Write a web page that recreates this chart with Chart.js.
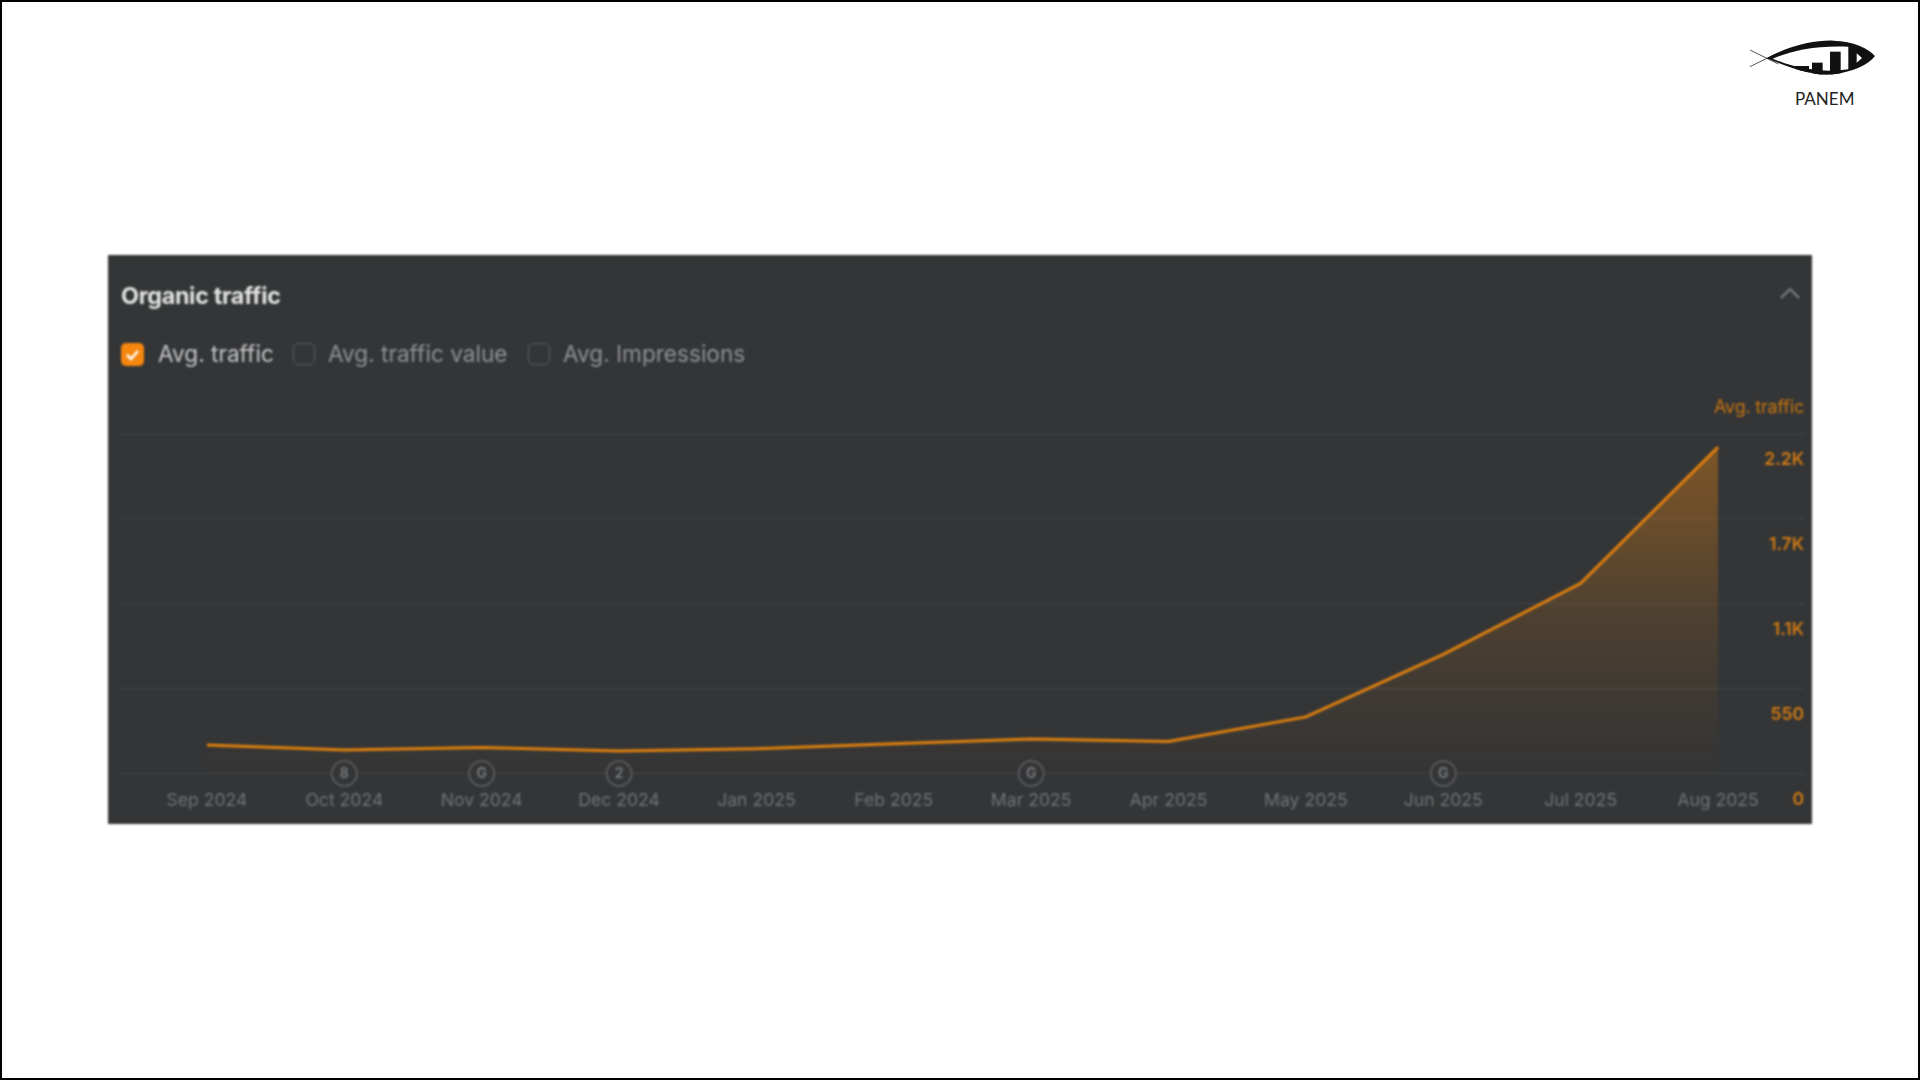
<!DOCTYPE html>
<html><head><meta charset="utf-8">
<script src="https://cdn.jsdelivr.net/npm/chart.js@4"></script>
<style>
html,body{margin:0;padding:0;background:#fff;width:1920px;height:1080px;overflow:hidden}
#frame{position:absolute;left:0;top:0;width:1920px;height:1080px;box-sizing:border-box;border:2px solid #000}
#panel{position:absolute;left:108px;top:255px;width:1704px;height:569px;background:#343536;filter:blur(0.9px);font-family:Inter,sans-serif}
#panel canvas{position:absolute;left:0;top:0}
.t{position:absolute;white-space:nowrap}
#title{left:13px;top:26px;font-size:23.3px;font-weight:700;color:#e2e3e3;letter-spacing:-.3px}
.leg{top:86px;font-size:22.6px;line-height:26px}
.box{position:absolute;top:88px;width:22px;height:22px;border:1.5px solid #5c5d5f;border-radius:5px;box-sizing:border-box}
#chk{left:13px;width:23px;height:23px;top:88px;background:#f5870f;border:none;border-radius:5px}
#chk svg{position:absolute;left:0;top:0}
#ytitle{right:8px;top:141px;font-size:18px;color:#c9750f;letter-spacing:-.2px}
#arrow{position:absolute;left:1671px;top:31px}
#logo{position:absolute;left:1720px;top:20px}
#brand{position:absolute;left:1795px;top:88px;font:17px Lato,"Open Sans",sans-serif;color:#222}
</style></head>
<body>
<div id="frame"></div>
<svg id="logo" width="180" height="100" viewBox="0 0 540 300">
<defs><clipPath id="fish"><path d="M140 115 C210 75 290 60 340 62 C400 64 445 85 465 108 C445 135 400 155 340 163 C290 168 240 155 140 115 Z"/></clipPath></defs>
<path d="M90 90 L175 132 M90 140 L175 98" stroke="#333" stroke-width="2.5" fill="none"/>
<path d="M140 115 C210 75 290 60 340 62 C400 64 445 85 465 108 C445 135 400 155 340 163 C290 168 240 155 140 115 Z" fill="#111"/>
<path d="M158 116 C215 92 285 76 385 80 L385 148 C320 158 240 150 158 116 Z" fill="#fff"/>
<g clip-path="url(#fish)" fill="#111">
<rect x="225" y="138" width="42" height="30"/>
<rect x="276" y="128" width="32" height="40"/>
<rect x="330" y="95" width="32" height="73"/>
</g>
<path d="M410 100 L426 114 L410 128 Z" fill="#fff"/>
</svg>
<div id="brand">PANEM</div>
<div id="panel">
  <canvas id="c" width="1704" height="569"></canvas>
  <div class="t" id="title">Organic traffic</div>
  <div class="box" id="chk"><svg width="23" height="23"><path d="M6 12 L10 16 L17 8" stroke="#fff" stroke-width="2.5" fill="none"/></svg></div>
  <div class="t leg" style="left:50px;color:#c6c7c8">Avg. traffic</div>
  <div class="box" style="left:185px"></div>
  <div class="t leg" style="left:220px;color:#8f9193">Avg. traffic value</div>
  <div class="box" style="left:420px"></div>
  <div class="t leg" style="left:455px;color:#8f9193">Avg. Impressions</div>
  <div class="t" id="ytitle">Avg. traffic</div>
  <svg id="arrow" width="22" height="14"><path d="M2 12 L11 3 L20 12" stroke="#7c7e80" stroke-width="2.2" fill="none"/></svg>
</div>
<script>
const months = ["Sep 2024","Oct 2024","Nov 2024","Dec 2024","Jan 2025","Feb 2025","Mar 2025","Apr 2025","May 2025","Jun 2025","Jul 2025","Aug 2025"];
const avgTraffic = [184,153,168,145,160,192,224,208,367,772,1233,2115];
const yTicks = [0,550,1100,1650,2200];
const yTickLabels = ["0","550","1.1K","1.7K","2.2K"];
const noteMonths = [1,2,3,6,9];
const noteMarks = ["8","G","2","G","G"];

const notePlugin = {
  id:'notes',
  afterDatasetsDraw(chart){
    const meta = chart.getDatasetMeta(1), ctx = chart.ctx;
    ctx.save();
    ctx.font = '600 14px Inter'; ctx.fillStyle = '#7c7e80';
    ctx.textAlign = 'center'; ctx.textBaseline = 'middle';
    meta.data.forEach((p,i)=>ctx.fillText(noteMarks[i], p.x, p.y));
    ctx.restore();
  }
};
new Chart(document.getElementById('c'),{
  type:'line',
  plugins:[notePlugin],
  data:{datasets:[
    {label:'Avg. traffic',data:avgTraffic.map((v,i)=>({x:i,y:v})),
     borderColor:'#df800e',borderWidth:3,pointRadius:0,tension:0,fill:'origin',
     backgroundColor(c){
       const a=c.chart.chartArea; if(!a) return 'transparent';
       const g=c.chart.ctx.createLinearGradient(0,a.top,0,a.bottom);
       g.addColorStop(0,'rgba(225,130,20,.44)');
       g.addColorStop(.25,'rgba(225,130,20,.32)');
       g.addColorStop(.5,'rgba(225,130,20,.17)');
       g.addColorStop(.75,'rgba(225,130,20,.07)');
       g.addColorStop(1,'rgba(225,130,20,0)');
       return g;
     }},
    {label:'Notes',type:'scatter',data:noteMonths.map(i=>({x:i,y:0})),clip:false,
     pointRadius:12.5,pointBorderWidth:1.5,pointBorderColor:'#626365',pointBackgroundColor:'#343536'}
  ]},
  options:{
    responsive:false,animation:false,
    layout:{autoPadding:false,padding:{left:12,right:8,top:179,bottom:0}},
    plugins:{legend:{display:false},tooltip:{enabled:false}},
    scales:{
      x:{type:'linear',min:-0.633,max:11.626,
         afterFit(s){s.height=50.5;s.paddingLeft=0;s.paddingRight=0},
         grid:{display:false},border:{display:false},
         afterBuildTicks(s){s.ticks=months.map((_,i)=>({value:i}))},
         ticks:{autoSkip:false,maxRotation:0,includeBounds:false,padding:9,
           color:'#707274',font:{family:'Inter',size:17.6},
           callback:v=>months[v]}},
      y:{position:'right',min:0,max:2200,
         afterFit(s){s.width=0;s.paddingTop=0;s.paddingBottom=0},
         grid:{color:'#444547',lineWidth:1,drawTicks:false},border:{display:false},
         afterBuildTicks(s){s.ticks=yTicks.map(v=>({value:v}))},
         ticks:{mirror:true,padding:0,labelOffset:26,color:'#cf7a12',
           font:{family:'Inter',size:17.5,weight:'600'},
           callback:v=>yTickLabels[yTicks.indexOf(v)]}}
    }
  }
});
</script>
</body></html>
